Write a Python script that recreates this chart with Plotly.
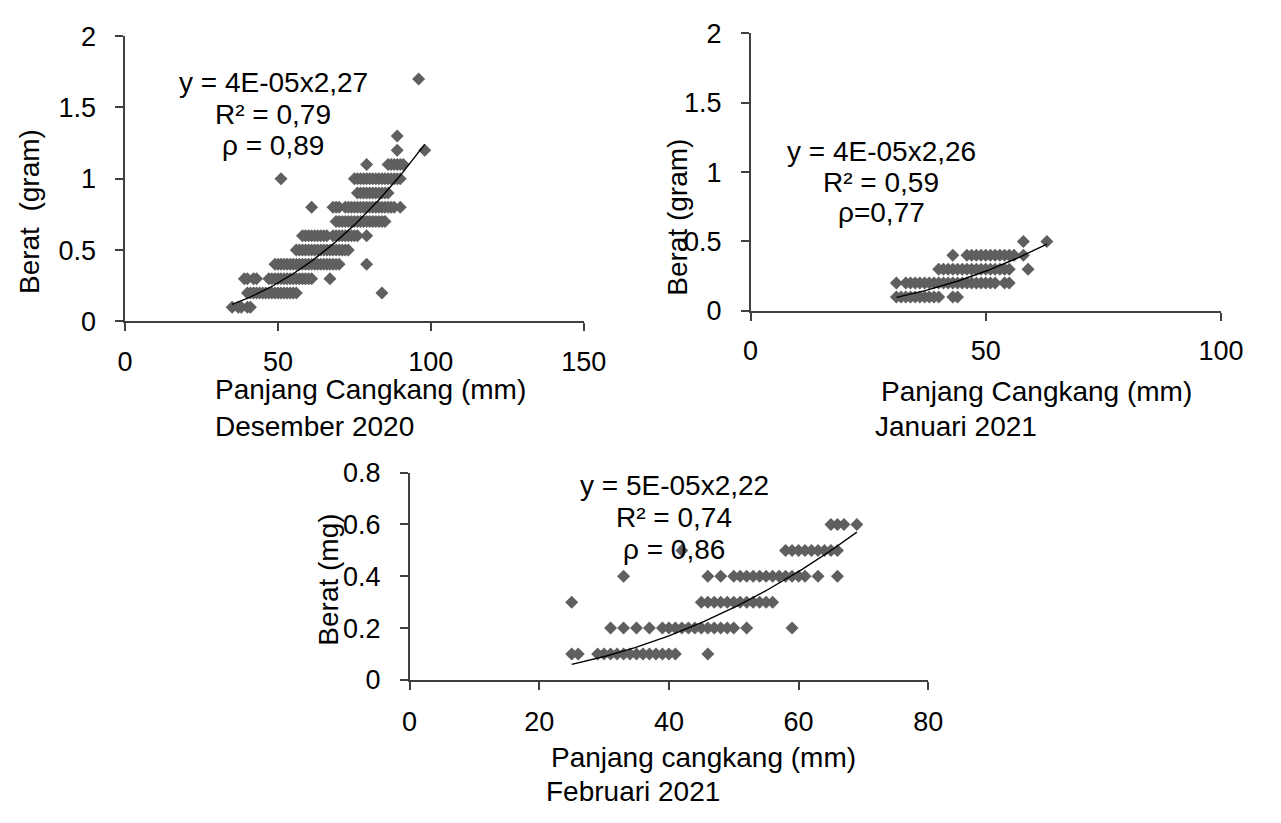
import numpy as np
import plotly.graph_objects as go

# ---------------- data ----------------
# Desember 2020 : panjang cangkang (mm) vs berat (gram)
des_x = ([35, 37, 38, 40, 41] +
         [40, 41, 42, 43, 44, 45, 46, 47, 48, 49, 50, 51, 52, 53, 54, 55, 56, 84] +
         [39, 40, 42, 43, 47, 48, 49, 50, 51, 52, 53, 54, 55, 56, 57, 58, 59, 60, 61, 67] +
         [49, 50, 51, 52, 53, 54, 55, 56, 57, 58, 59, 60, 61, 62, 63, 64, 65, 66, 67, 68, 69, 70, 79] +
         [56, 57, 58, 59, 60, 61, 62, 63, 64, 65, 66, 67, 68, 69, 70, 71, 72, 73] +
         [58, 59, 60, 61, 62, 63, 64, 65, 66, 68, 69, 70, 71, 72, 73, 74, 75, 76, 79] +
         [69, 70, 71, 72, 73, 74, 75, 76, 77, 78, 79, 80, 81, 82, 83, 84, 85] +
         [61, 68, 69, 70, 72, 73, 74, 75, 76, 77, 78, 79, 80, 81, 82, 83, 84, 85, 86, 87, 88, 90] +
         [76, 77, 78, 79, 80, 81, 82, 83, 84, 85, 86] +
         [51, 75, 76, 77, 78, 79, 80, 81, 82, 83, 84, 85, 86, 87, 88, 89, 90] +
         [79, 86, 87, 88, 89, 90, 91] +
         [89, 98] +
         [89] +
         [96])
des_y = ([0.1] * 5 + [0.2] * 18 + [0.3] * 20 + [0.4] * 23 + [0.5] * 18 + [0.6] * 19 +
         [0.7] * 17 + [0.8] * 22 + [0.9] * 11 + [1.0] * 17 + [1.1] * 7 + [1.2] * 2 +
         [1.3] * 1 + [1.7] * 1)

# Januari 2021
jan_x = ([31, 32, 33, 34, 35, 36, 37, 38, 39, 40, 43, 44] +
         [31, 33, 34, 35, 36, 37, 38, 39, 40, 41, 42, 43, 44, 45, 46, 47, 48, 49, 50, 51, 52, 54, 55] +
         [40, 41, 42, 43, 44, 45, 46, 47, 48, 49, 50, 51, 52, 53, 54, 55, 59] +
         [43, 46, 47, 48, 49, 50, 51, 52, 53, 54, 55, 56, 58] +
         [58, 63])
jan_y = ([0.1] * 12 + [0.2] * 23 + [0.3] * 17 + [0.4] * 13 + [0.5] * 2)

# Februari 2021 : panjang cangkang (mm) vs berat (mg)
feb_x = ([25, 26, 29, 30, 31, 32, 33, 34, 35, 36, 37, 38, 39, 40, 41, 46] +
         [31, 33, 35, 37, 39, 40, 41, 42, 43, 44, 45, 46, 47, 48, 49, 50, 52, 59] +
         [25, 45, 46, 47, 48, 49, 50, 51, 52, 53, 54, 55, 56] +
         [33, 46, 48, 50, 51, 52, 53, 54, 55, 56, 57, 58, 59, 60, 61, 63, 66] +
         [42, 58, 59, 60, 61, 62, 63, 64, 65, 66] +
         [65, 66, 67, 69])
feb_y = ([0.1] * 16 + [0.2] * 18 + [0.3] * 13 + [0.4] * 17 + [0.5] * 10 + [0.6] * 4)

# power trendlines y = a * x^b (a estimated from the drawn curve, b from the labels)
trend_a = [3.75e-05, 4.13e-05, 4.72e-05]
trend_b = [2.27, 2.26, 2.22]

eq_texts = {
    "des": ["y = 4E-05x2,27", "R² = 0,79", "ρ = 0,89"],
    "jan": ["y = 4E-05x2,26", "R² = 0,59", "ρ=0,77"],
    "feb": ["y = 5E-05x2,22", "R² = 0,74", "ρ = 0,86"],
}

# ---------------- layout helpers ----------------
W, H = 1281, 823
FONT = "Liberation Sans, Arial, sans-serif"
MARK = "#5f5f5f"
AXC = "#404040"


def fx(px):
    return px / W


def fy(py):
    return 1 - py / H


fig = go.Figure()

panels = [
    (des_x, des_y, "x", "y"),
    (jan_x, jan_y, "x2", "y2"),
    (feb_x, feb_y, "x3", "y3"),
]
for i, (xs, ys, xa, ya) in enumerate(panels):
    fig.add_trace(go.Scatter(x=xs, y=ys, mode="markers", xaxis=xa, yaxis=ya,
                             marker=dict(symbol="diamond", size=10, color=MARK,
                                         line=dict(width=0)),
                             showlegend=False, cliponaxis=False))
    tx = np.linspace(min(xs), max(xs), 100)
    ty = trend_a[i] * tx ** trend_b[i]
    fig.add_trace(go.Scatter(x=tx, y=ty, mode="lines", xaxis=xa, yaxis=ya,
                             line=dict(color="black", width=1.4),
                             showlegend=False, cliponaxis=False))


def axis(domain, rng, dtick, anchor, standoff):
    return dict(domain=domain, range=rng, dtick=dtick, anchor=anchor,
                showline=True, linecolor=AXC, linewidth=1.5,
                ticks="outside", ticklen=8, tickwidth=1.5, tickcolor=AXC,
                showgrid=False, zeroline=False, ticklabelstandoff=standoff,
                tickfont=dict(family=FONT, size=27, color="black"))


fig.update_layout(
    width=W, height=H,
    margin=dict(l=0, r=0, t=0, b=0),
    paper_bgcolor="white", plot_bgcolor="white",
    font=dict(family=FONT, size=28, color="black"),
    xaxis=axis([fx(120), fx(590)], [0, 150], 50, "y", 7),
    yaxis=axis([fy(318), fy(22)], [0, 2], 0.5, "x", 14),
    xaxis2=axis([fx(761), fx(1243)], [0, 100], 50, "y2", 7),
    yaxis2=axis([fy(307), fy(19)], [0, 2], 0.5, "x2", 14),
    xaxis3=axis([fx(411.6), fx(943)], [0, 80], 20, "y3", 9),
    yaxis3=axis([fy(690), fy(475)], [0, 0.8], 0.2, "x3", 14),
)

ann = []


def text(t, px, py, angle=0):
    ann.append(dict(text=t, x=fx(px), y=fy(py), xref="paper", yref="paper",
                    xanchor="center", yanchor="middle", showarrow=False,
                    textangle=angle, font=dict(family=FONT, size=28, color="black")))


for key, cx, ys in [("des", 272, [70, 103, 135]),
                    ("jan", 895, [142, 174, 205]),
                    ("feb", 683, [488, 522, 555])]:
    for t, yy in zip(eq_texts[key], ys):
        text(t, cx, yy)

text("Panjang Cangkang (mm)", 372, 389)
text("Desember 2020", 314, 427)
text("Panjang Cangkang (mm)", 1054, 391)
text("Januari 2021", 971, 427)
text("Panjang cangkang (mm)", 713, 771)
text("Februari 2021", 640, 806)
text("Berat  (gram)", 22, 204, -90)
text("Berat (gram)", 686, 210, -90)
text("Berat (mg)", 329, 586, -90)

fig.update_layout(annotations=ann)
fig.write_html("out.html", config={"displayModeBar": False},
               post_script="document.body.style.margin='0px';")
